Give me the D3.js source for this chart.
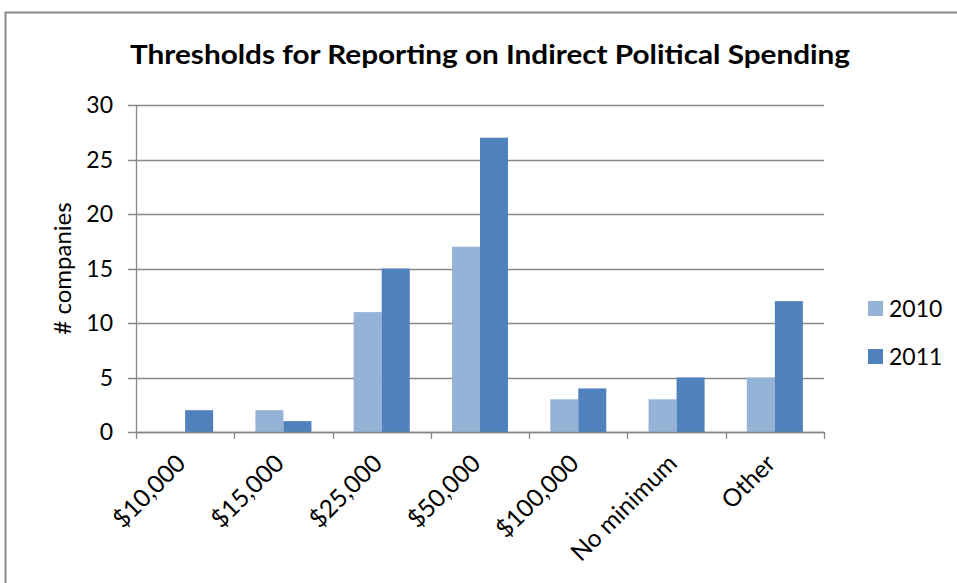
<!DOCTYPE html>
<html>
<head>
<meta charset="utf-8">
<script src="https://cdn.jsdelivr.net/npm/d3@7"></script>
<style>
  html, body { margin: 0; padding: 0; background: #fff; }
  svg { display: block; font-family: Lato, "Open Sans", sans-serif; }
</style>
</head>
<body>
<svg id="chart" width="957" height="583"></svg>
<script>
const categories = ["$10,000", "$15,000", "$25,000", "$50,000", "$100,000", "No minimum", "Other"];
const seriesNames = ["2010", "2011"];
const values2010 = [0, 2, 11, 17, 3, 3, 5];
const values2011 = [2, 1, 15, 27, 4, 5, 12];
const yTicks = [0, 5, 10, 15, 20, 25, 30];
const titleText = "Thresholds for Reporting on Indirect Political Spending";
const yLabel = "# companies";
const colors = ["#95B3D7", "#4F81BD"];

const svg = d3.select("#chart");
const pLeft = 136, pRight = 824, pTop = 105, pBottom = 432;

svg.append("rect").attr("x", 5.5).attr("y", 12.5).attr("width", 1000).attr("height", 700)
  .attr("fill", "#fff").attr("stroke", "#888").attr("stroke-width", 2);

const x = d3.scaleBand().domain(categories).range([pLeft, pRight]).paddingInner(0.43).paddingOuter(0.215);
const xs = d3.scaleBand().domain(seriesNames).range([0, x.bandwidth()]);
const y = d3.scaleLinear().domain([0, 30]).range([pBottom, pTop]);

// gridlines
svg.append("g").selectAll("line").data(yTicks).join("line")
  .attr("x1", pLeft - 8).attr("x2", pRight)
  .attr("y1", d => Math.round(y(d)) + 0.5).attr("y2", d => Math.round(y(d)) + 0.5)
  .attr("stroke", "#888").attr("stroke-width", 1.3);

// y axis line
svg.append("line").attr("x1", pLeft + 0.5).attr("x2", pLeft + 0.5).attr("y1", pTop).attr("y2", pBottom)
  .attr("stroke", "#888").attr("stroke-width", 1.3);

// y tick labels
svg.append("g").selectAll("text").data(yTicks).join("text")
  .attr("x", 113).attr("y", d => y(d)).attr("dy", "0.36em")
  .attr("text-anchor", "end").attr("font-size", 23).attr("fill", "#000")
  .text(d => d);

// bars
const data = categories.map((c, i) => ({ cat: c, vals: [values2010[i], values2011[i]] }));
const groups = svg.append("g").selectAll("g").data(data).join("g")
  .attr("transform", d => `translate(${x(d.cat)},0)`);
groups.selectAll("rect").data(d => d.vals.map((v, j) => ({ v, s: seriesNames[j], j })))
  .join("rect")
  .attr("x", d => xs(d.s)).attr("width", xs.bandwidth())
  .attr("y", d => y(d.v)).attr("height", d => y(0) - y(d.v))
  .attr("fill", d => colors[d.j]);

// x axis line and ticks
svg.append("line").attr("x1", pLeft).attr("x2", pRight).attr("y1", pBottom + 0.5).attr("y2", pBottom + 0.5)
  .attr("stroke", "#888").attr("stroke-width", 1.3);
const tickPos = categories.map(c => x(c) - x.step() * x.paddingInner() / 2).concat([pRight]);
svg.append("g").selectAll("line").data(tickPos).join("line")
  .attr("x1", d => Math.round(d) + 0.5).attr("x2", d => Math.round(d) + 0.5)
  .attr("y1", pBottom).attr("y2", pBottom + 7)
  .attr("stroke", "#888").attr("stroke-width", 1.3);

// x labels
svg.append("g").selectAll("text").data(categories).join("text")
  .attr("transform", c => `translate(${x(c) + x.bandwidth() / 2 + 2},${pBottom + 33}) rotate(-45)`)
  .attr("text-anchor", "end").attr("font-size", 24.5).attr("fill", "#000")
  .text(c => c);

// y axis title
svg.append("text").attr("transform", `translate(63,${(pTop + pBottom) / 2}) rotate(-90)`)
  .attr("text-anchor", "middle").attr("dy", "0.35em").attr("font-size", 24).attr("fill", "#000")
  .text(yLabel);

// title
svg.append("text").attr("x", 490).attr("y", 64).attr("text-anchor", "middle")
  .attr("font-size", 27).attr("font-weight", "bold").attr("fill", "#000")
  .attr("textLength", 720).attr("lengthAdjust", "spacingAndGlyphs")
  .text(titleText);

// legend
const leg = svg.append("g").selectAll("g").data(seriesNames).join("g")
  .attr("transform", (d, i) => `translate(868,${301 + i * 48})`);
leg.append("rect").attr("width", 15).attr("height", 15).attr("fill", (d, i) => colors[i]);
leg.append("text").attr("x", 21).attr("y", 8).attr("dy", "0.36em").attr("font-size", 23).attr("fill", "#000")
  .text(d => d);
</script>
</body>
</html>
